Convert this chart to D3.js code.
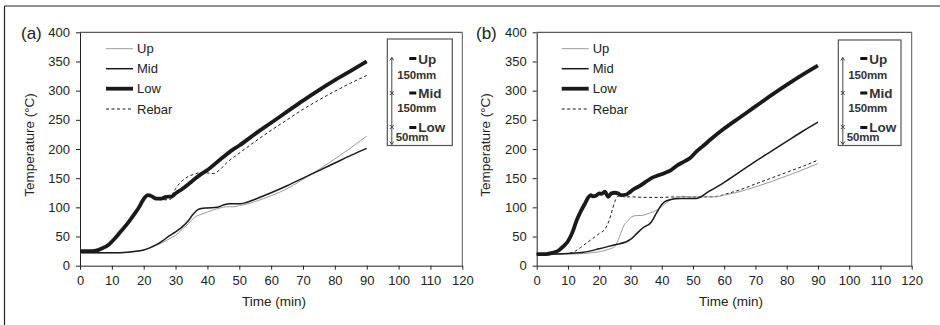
<!DOCTYPE html>
<html><head><meta charset="utf-8">
<script src="https://cdn.jsdelivr.net/npm/d3@7"></script>
<style>
body{margin:0;background:#fff}
svg{display:block}
text{font-family:"Liberation Sans",Arial,sans-serif;fill:#222}
</style>
</head><body><svg id="c" width="940" height="325"></svg>
<script>
// ---- data ----
const xTickValues = [0,10,20,30,40,50,60,70,80,90,100,110,120];
const yTickValues = [0,50,100,150,200,250,300,350,400];
const seriesNames = ["Up","Mid","Low","Rebar"];
const insetLabels = ["Up","Mid","Low"];
const insetGaps = ["150mm","150mm","50mm"];
const panelLabels = ["(a)","(b)"];

// panel (a) [time (min), temperature (°C)]
const aUp = [[0,22],[5,22],[10,22],[15,23],[18,25],[20,27],[22,30],[24,35],[26,40],[28,46],[30,52],[32,62],[34,72],[36,83],[38,88],[40,92],[42,96],[44,99],[46,101],[48,101],[50,103],[52,105],[55,110],[60,120],[65,132],[70,148],[75,165],[80,183],[85,202],[90,222]];
const aMid = [[0,22],[5,22],[10,22],[15,23],[18,25],[20,27],[22,31],[24,36],[26,43],[28,51],[30,58],[32,66],[34,77],[35.5,88],[37,96],[38,98],[40,99],[43,100],[45,104],[47,106],[50,106],[52,108],[55,114],[60,125],[65,137],[70,150],[75,163],[80,176],[85,189],[90,201]];
const aLow = [[0,25],[3,25],[5,26],[7,30],[9,36],[11,47],[13,60],[15,73],[17,88],[18.5,100],[19.5,110],[20.5,118],[21.5,121],[22.5,119],[24,115],[25.5,115],[27,118],[29,119],[30,124],[32,131],[35,144],[38,157],[40,164],[44,182],[48,199],[50,206],[55,226],[60,245],[65,264],[70,283],[75,301],[80,318],[85,334],[90,350]];
const aRebar = [[0,25],[3,25],[5,26],[7,30],[9,36],[11,47],[13,60],[15,73],[17,88],[18.5,100],[19.5,110],[20.5,117],[21.5,120],[22.5,118],[24,114],[25.5,113],[27,113],[28.5,114],[29,122],[30,132],[32,145],[34,153],[36,157],[38,160],[40,159],[42,158],[44,165],[46,176],[50,193],[55,213],[60,232],[65,250],[70,268],[75,284],[80,299],[85,313],[90,326]];

// panel (b)
const bUp = [[0,20],[10,20],[15,21],[20,24],[23,28],[25,33],[26.5,50],[28,70],[29,76],[30.5,84],[32,86],[33.5,86],[35,88],[37,92],[39,97],[41,106],[43,113],[45,118],[47,119],[50,118],[53,118],[57,118],[60,121],[65,127],[70,135],[75,144],[80,154],[85,164],[90,175]];
const bMid = [[0,20],[5,20],[10,21],[15,23],[20,29],[25,36],[28.7,41],[30,45],[32,55],[34,65],[36.7,75],[38.3,90],[39.9,104],[41,110],[42.6,113],[46,115],[51,115],[55,127],[60,143],[65,161],[70,179],[75,196],[80,213],[85,230],[90,246]];
const bLow = [[0,20],[3,20],[5,22],[7,26],[8.5,33],[10,42],[11.5,58],[12.8,78],[14,92],[15.4,106],[16.5,117],[17.3,121],[18,119],[19,120],[20,124],[20.8,123],[21.8,127],[22.9,118],[23.9,124],[25,125],[26,124],[27,121],[28.7,122],[30,127],[31,131],[33,137],[35,144],[37,151],[39,155],[41,159],[43,164],[45,172],[47,178],[49,184],[51,195],[53,204],[56,218],[60,235],[65,254],[70,273],[75,292],[80,310],[85,327],[90,343]];
const bRebar = [[0,20],[10,21],[12,24],[14,31],[16,39],[18,47],[20,55],[22,64],[23,75],[24,92],[25,110],[26,119],[27,120],[28,118],[30,118],[35,117],[40,117],[45,118],[50,118],[55,118],[58,119],[60,122],[65,130],[70,140],[75,150],[80,160],[85,170],[90,181]];

// ---- layout ----
const svg = d3.select("#c");
const yTop = 32.3, yBot = 265.7;
const y = d3.scaleLinear().domain([0,400]).range([yBot,yTop]);

const styles = {
  Up:    {stroke:"#9a9a9a", w:1,   dash:null},
  Mid:   {stroke:"#1a1a1a", w:1.5, dash:null},
  Low:   {stroke:"#1a1a1a", w:3.8, dash:null},
  Rebar: {stroke:"#1a1a1a", w:1,   dash:"3,2.5"}
};

// outer frame
svg.append("line").attr("x1",4.5).attr("x2",940).attr("y1",6).attr("y2",6).attr("stroke","#222").attr("stroke-width",1.2);
svg.append("line").attr("x1",4.5).attr("x2",4.5).attr("y1",6).attr("y2",325).attr("stroke","#222").attr("stroke-width",1.2);

const panels = [
  {label:panelLabels[0], labelX:21, left:80, right:462.3, yTitleX:29.3, xTitleX:274, box:{x:387.3,y:39,w:65,h:106.5}, legX:106,
   data:{Up:aUp, Mid:aMid, Low:aLow, Rebar:aRebar}},
  {label:panelLabels[1], labelX:476, left:536.7, right:911.7, yTitleX:485, xTitleX:731, box:{x:838.3,y:40,w:62.7,h:105.5}, legX:561.7,
   data:{Up:bUp, Mid:bMid, Low:bLow, Rebar:bRebar}}
];

panels.forEach(p => {
  const x = d3.scaleLinear().domain([0,120]).range([p.left,p.right]);
  const g = svg.append("g");

  // plot border top/right
  g.append("line").attr("x1",p.left).attr("x2",p.right).attr("y1",yTop).attr("y2",yTop).attr("stroke","#333").attr("stroke-width",1);
  g.append("line").attr("x1",p.right).attr("x2",p.right).attr("y1",yTop).attr("y2",yBot).attr("stroke","#555").attr("stroke-width",1);

  const ya = g.append("g").attr("transform",`translate(${p.left},0)`)
    .call(d3.axisLeft(y).tickValues(yTickValues).tickSize(4).tickSizeOuter(0).tickPadding(6));
  const xa = g.append("g").attr("transform",`translate(0,${yBot})`)
    .call(d3.axisBottom(x).tickValues(xTickValues).tickSize(4).tickSizeOuter(0).tickPadding(6));
  [ya,xa].forEach(a => {
    a.selectAll("text").attr("font-size",13).attr("font-family",'"Liberation Sans",Arial,sans-serif').style("fill","#222");
    a.selectAll("line").attr("stroke","#222");
    a.select(".domain").attr("stroke","#222");
  });

  // axis titles
  g.append("text").attr("transform",`translate(${p.yTitleX},${(yTop+yBot)/2-4}) rotate(-90)`)
    .attr("text-anchor","middle").attr("dominant-baseline","central").attr("font-size",13.5).text("Temperature (°C)");
  g.append("text").attr("x",p.xTitleX).attr("y",301.5).attr("text-anchor","middle").attr("dominant-baseline","central")
    .attr("font-size",13.5).text("Time (min)");

  // panel label
  g.append("text").attr("x",p.labelX).attr("y",39).attr("font-size",17).text(p.label);

  // series
  const line = d3.line().x(d=>x(d[0])).y(d=>y(d[1])).curve(d3.curveMonotoneX);
  ["Rebar","Up","Mid","Low"].forEach(name => {
    const s = styles[name];
    g.append("path").datum(p.data[name]).attr("d",line).attr("fill","none")
      .attr("stroke",s.stroke).attr("stroke-width",s.w).attr("stroke-dasharray",s.dash)
      .attr("stroke-linejoin","round").attr("stroke-linecap","butt");
  });

  // legend
  const legY = [48.7,68.7,88.7,109];
  seriesNames.forEach((name,i) => {
    const s = styles[name];
    g.append("line").attr("x1",p.legX).attr("x2",p.legX+27).attr("y1",legY[i]).attr("y2",legY[i])
      .attr("stroke",s.stroke).attr("stroke-width",s.w).attr("stroke-dasharray",s.dash);
    g.append("text").attr("x",p.legX+31).attr("y",legY[i]).attr("dominant-baseline","central").attr("font-size",13).text(name);
  });

  // inset box
  const b = p.box;
  g.append("rect").attr("x",b.x).attr("y",b.y).attr("width",b.w).attr("height",b.h)
    .attr("fill","#fff").attr("stroke","#555").attr("stroke-width",1.2);
  const ax = b.x + 4.5, aTop = 57.5, aBot = 144.5;
  g.append("line").attr("x1",ax).attr("x2",ax).attr("y1",aTop).attr("y2",aBot).attr("stroke","#333").attr("stroke-width",0.9);
  g.append("path").attr("d",`M${ax-2},${aTop+3}L${ax},${aTop}L${ax+2},${aTop+3}`).attr("fill","none").attr("stroke","#333").attr("stroke-width",0.9);
  g.append("path").attr("d",`M${ax-2},${aBot-3}L${ax},${aBot}L${ax+2},${aBot-3}`).attr("fill","none").attr("stroke","#333").attr("stroke-width",0.9);
  [93,127].forEach(my => {
    g.append("path").attr("d",`M${ax-2},${my-2}L${ax+2},${my+2}M${ax-2},${my+2}L${ax+2},${my-2}`).attr("stroke","#333").attr("stroke-width",0.9);
  });
  const dashY = [58.5,93,127.5], labY = [63.5,98,131.5];
  insetLabels.forEach((t,i) => {
    g.append("rect").attr("x",b.x+22).attr("y",dashY[i]-1.5).attr("width",7).attr("height",3).attr("fill","#111");
    g.append("text").attr("x",b.x+31).attr("y",labY[i]).attr("font-size",13.5).attr("font-weight","bold").style("fill","#333").text(t);
  });
  const gapX = [b.x+10,b.x+10,b.x+8.5], gapY = [79,112,141];
  insetGaps.forEach((t,i) => {
    g.append("text").attr("x",gapX[i]).attr("y",gapY[i]).attr("font-size",11.5).attr("font-weight","bold")
      .attr("letter-spacing",-0.2).style("fill","#333").text(t);
  });
});
</script></body></html>
